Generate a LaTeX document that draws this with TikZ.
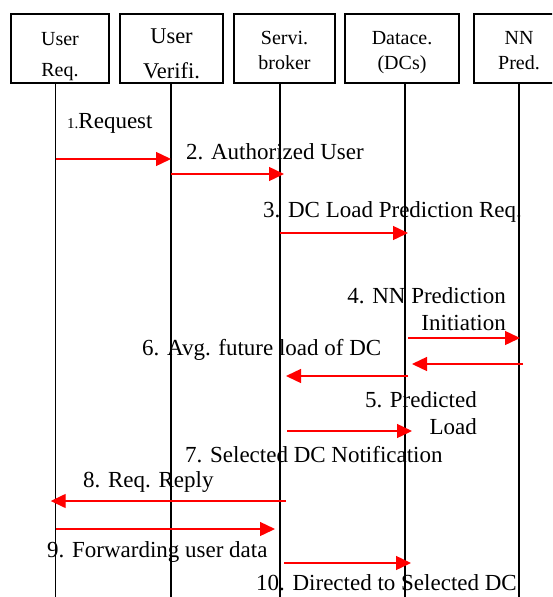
\documentclass[tikz,border=0pt]{standalone}
\usepackage{fontspec}
\setmainfont{Liberation Serif}
\usetikzlibrary{arrows.meta}

\tikzset{
  box/.style={draw, line width=1.6pt, minimum height=69pt, inner sep=0pt, align=center,
              text depth=0pt, text height=41pt, font=\fontsize{20}{25}\selectfont},
  life/.style={line width=1.5pt},
  msg/.style={red, line width=1.4pt, -{Triangle[length=15pt,width=14pt]}},
  lbl/.style={inner sep=0pt, font=\fontsize{23}{27}\selectfont}
}

\begin{document}
\begin{tikzpicture}[x=1pt,y=-1pt]
    \useasboundingbox (0,0) rectangle (552,597);
    \clip (0,0) rectangle (552,597);

    % participants
    \node[box, minimum width=98pt, text height=55pt, font=\fontsize{20}{31}\selectfont] (ur) at (60,48.5) {User\\Req.};
    \node[box, minimum width=103pt, text height=59pt, font=\fontsize{22.5}{35}\selectfont] (uv) at (171.5,48.5) {User\\Verifi.};
    \node[box, minimum width=101pt] (sb) at (284.5,48.5) {Servi.\\broker};
    \node[box, minimum width=114pt] (dc) at (402,48.5) {Datace.\\(DCs)};
    \node[box, minimum width=90pt] (nn) at (519,48.5) {NN\\Pred.};

    % lifelines
    \coordinate (ur-end) at (55.7,597);
    \coordinate (uv-end) at (171,597);
    \coordinate (sb-end) at (280,597);
    \coordinate (dc-end) at (405,597);
    \coordinate (nn-end) at (519,597);
    \foreach \p in {ur,uv,sb,dc,nn}
        \draw[life] (\p.south -| \p-end) -- (\p-end);

    % messages
    \draw[msg] (ur-end |- 0,159) -- (uv-end |- 0,159);
    \draw[msg] (uv-end |- 0,174) -- ([xshift=4pt]sb-end |- 0,174);
    \draw[msg] (sb-end |- 0,233) -- ([xshift=3pt]dc-end |- 0,233);
    \draw[msg] ([xshift=3pt]dc-end |- 0,338) -- ([xshift=1pt]nn-end |- 0,338);
    \draw[msg] ([xshift=4pt]nn-end |- 0,364) -- ([xshift=7pt]dc-end |- 0,364);
    \draw[msg] ([xshift=3pt]dc-end |- 0,376) -- ([xshift=6pt]sb-end |- 0,376);
    \draw[msg] ([xshift=7pt]sb-end |- 0,431) -- ([xshift=7pt]dc-end |- 0,431);
    \draw[msg] ([xshift=6pt]sb-end |- 0,501) -- ([xshift=-5pt]ur-end |- 0,501);
    \draw[msg] (ur-end |- 0,529) -- ([xshift=-5pt]sb-end |- 0,529);
    \draw[msg] ([xshift=4pt]sb-end |- 0,563) -- ([xshift=6pt]dc-end |- 0,563);

    % labels
    \node[lbl, anchor=west] (l1) at (67,123) {{\fontsize{15}{18}\selectfont 1.}Request};
    \node[lbl, anchor=west] (l2) at (186,152) {2. Authorized User};
    \node[lbl, anchor=west] (l3) at (263,212) {3. DC Load Prediction Req.};
    \node[lbl, anchor=east, align=right] (l4) at (506,309.5) {4. NN Prediction\\Initiation};
    \node[lbl, anchor=west] (l6) at (142,350) {6. Avg. future load of DC};
    \node[lbl, anchor=east, align=right] (l5) at (477,413.5) {5. Predicted\\Load};
    \node[lbl, anchor=west] (l7) at (185,455) {7. Selected DC Notification};
    \node[lbl, anchor=west] (l8) at (83,482) {8. Req. Reply};
    \node[lbl, anchor=west] (l9) at (47,552) {9. Forwarding user data};
    \node[lbl, anchor=west] (l10) at (256,583) {10. Directed to Selected DC};
\end{tikzpicture}
\end{document}
